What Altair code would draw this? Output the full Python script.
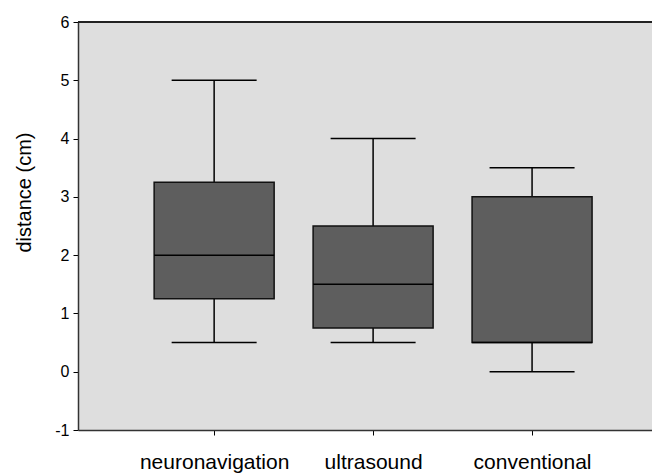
import json
import altair as alt
import pandas as pd

# ---- data ----
categories = ["neuronavigation", "ultrasound", "conventional"]
positions = [1, 2, 3]
whisker_low = [0.5, 0.5, 0.0]
q1 = [1.25, 0.75, 0.5]
median = [2.0, 1.5, 0.5]
q3 = [3.25, 2.5, 3.0]
whisker_high = [5.0, 4.0, 3.5]
y_ticks = [-1, 0, 1, 2, 3, 4, 5, 6]

df = pd.DataFrame({
    "cat": categories,
    "pos": positions,
    "lo": whisker_low,
    "q1": q1,
    "med": median,
    "q3": q3,
    "hi": whisker_high,
})

FONT = "Liberation Sans"
label_expr = json.dumps(categories) + "[datum.value - 1]"

x_scale = alt.Scale(domain=[0.175, 3.723], nice=False, zero=False)
y_scale = alt.Scale(domain=[-1, 6], nice=False, zero=False)

x_axis = alt.Axis(
    values=positions, labelExpr=label_expr, title=None, grid=False,
    domainColor="#333333", domainWidth=1.5, tickColor="#000000", tickSize=5,
    labelFont=FONT, labelFontSize=21, labelColor="#000000", labelPadding=16,
    labelFlush=False, labelOverlap=False,
)
y_axis = alt.Axis(
    values=y_ticks, labelExpr="'' + datum.value", title="distance (cm)", grid=False,
    domainColor="#333333", domainWidth=1.5, tickColor="#000000", tickSize=5,
    labelFont=FONT, labelFontSize=16, labelColor="#000000", labelPadding=4,
    titleFont=FONT, titleFontSize=20, titleFontWeight="normal", titleColor="#000000",
    titleAngle=270, titleAlign="center", titleBaseline="middle",
    titleX=-54, titleY=170,
)

base = alt.Chart(df)
X = alt.X("pos:Q", scale=x_scale, axis=x_axis)

whisk_up = base.mark_rule(color="#000000", strokeWidth=1.5).encode(
    x=X, y=alt.Y("q3:Q", scale=y_scale, axis=y_axis), y2="hi:Q")
whisk_dn = base.mark_rule(color="#000000", strokeWidth=1.5).encode(
    x=X, y=alt.Y("lo:Q", scale=y_scale), y2="q1:Q")
cap_hi = base.mark_tick(orient="horizontal", size=85, thickness=1.5, color="#000000", opacity=1).encode(
    x=X, y=alt.Y("hi:Q", scale=y_scale))
cap_lo = base.mark_tick(orient="horizontal", size=85, thickness=1.5, color="#000000", opacity=1).encode(
    x=X, y=alt.Y("lo:Q", scale=y_scale))
box = base.mark_bar(size=120, color="#5e5e5e", stroke="#111111", strokeWidth=1.5).encode(
    x=X, y=alt.Y("q1:Q", scale=y_scale), y2="q3:Q")
med = base.mark_tick(orient="horizontal", size=120, thickness=1.5, color="#000000", opacity=1).encode(
    x=X, y=alt.Y("med:Q", scale=y_scale))
top = alt.Chart(pd.DataFrame({"v": [y_ticks[-1]]})).mark_rule(color="#222222", strokeWidth=2).encode(
    y=alt.Y("v:Q", scale=y_scale), x=alt.value(0), x2=alt.value(574))

chart = alt.layer(whisk_up, whisk_dn, cap_hi, cap_lo, box, med, top).properties(
    width=574, height=408,
    autosize=alt.AutoSizeParams(type="none"),
    padding={"left": 70, "top": 14, "right": 0, "bottom": 44},
    background="#ffffff",
).configure_view(fill="#dedede", stroke=None)

chart.save("out.html", embed_options={"renderer": "svg", "actions": False})
